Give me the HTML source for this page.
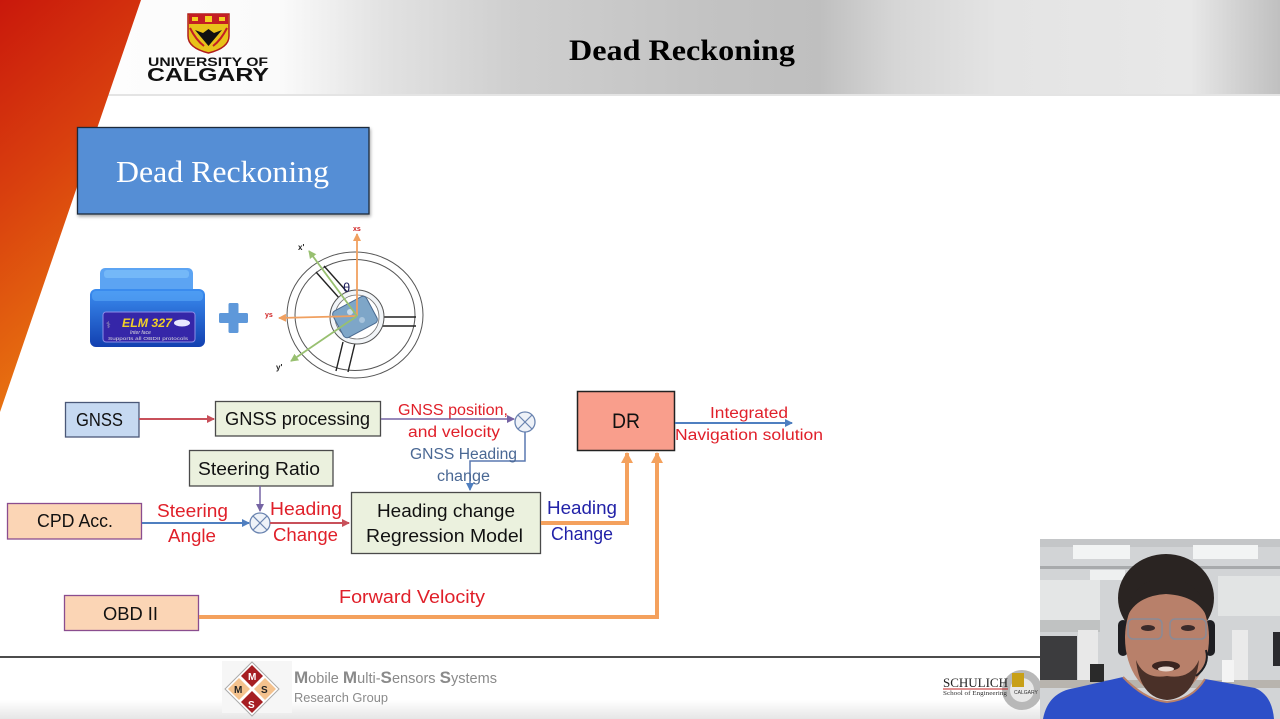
<!DOCTYPE html>
<html><head><meta charset="utf-8"><style>
html,body{margin:0;padding:0;background:#fff;}
svg{display:block;}
text{font-family:"Liberation Sans",sans-serif;}
</style></head><body>
<svg width="1280" height="719" viewBox="0 0 1280 719" xmlns="http://www.w3.org/2000/svg">
<defs>
<linearGradient id="hdr" x1="0" y1="0" x2="1" y2="0">
<stop offset="0" stop-color="#ffffff"/><stop offset="0.22" stop-color="#fafafa"/>
<stop offset="0.3" stop-color="#e2e2e2"/><stop offset="0.4" stop-color="#cfcfcf"/>
<stop offset="0.55" stop-color="#c3c3c3"/><stop offset="0.64" stop-color="#bfbfbf"/>
<stop offset="0.7" stop-color="#d6d6d6"/><stop offset="0.78" stop-color="#e4e4e4"/>
<stop offset="0.93" stop-color="#e8e8e8"/><stop offset="0.97" stop-color="#d0d0d0"/>
<stop offset="1" stop-color="#c0c0c0"/></linearGradient>
<linearGradient id="sw" x1="0" y1="0" x2="0.3" y2="1">
<stop offset="0" stop-color="#c9180c"/><stop offset="0.45" stop-color="#d9400e"/>
<stop offset="1" stop-color="#ea7a10"/></linearGradient>
<linearGradient id="obd" x1="0" y1="0" x2="0" y2="1">
<stop offset="0" stop-color="#3b8df0"/><stop offset="1" stop-color="#1240b0"/></linearGradient>
<linearGradient id="bot" x1="0" y1="0" x2="0" y2="1">
<stop offset="0" stop-color="#ffffff"/><stop offset="1" stop-color="#e6e6e6"/></linearGradient>
<marker id="aR" markerWidth="8" markerHeight="8" refX="7" refY="4" orient="auto" markerUnits="userSpaceOnUse"><path d="M0,0 L8,4 L0,8 z" fill="#c8505a"/></marker>
<marker id="aP" markerWidth="8" markerHeight="8" refX="7" refY="4" orient="auto" markerUnits="userSpaceOnUse"><path d="M0,0 L8,4 L0,8 z" fill="#7564a4"/></marker>
<marker id="aB" markerWidth="8" markerHeight="8" refX="7" refY="4" orient="auto" markerUnits="userSpaceOnUse"><path d="M0,0 L8,4 L0,8 z" fill="#4f7fc0"/></marker>
<marker id="aO" markerWidth="12" markerHeight="12" refX="10" refY="6" orient="auto" markerUnits="userSpaceOnUse"><path d="M0,0 L11,6 L0,12 z" fill="#f4a15d"/></marker>
<marker id="aOr" markerWidth="8" markerHeight="8" refX="7" refY="4" orient="auto" markerUnits="userSpaceOnUse"><path d="M0,0 L8,4 L0,8 z" fill="#f0a060"/></marker>
<marker id="aG" markerWidth="8" markerHeight="8" refX="7" refY="4" orient="auto" markerUnits="userSpaceOnUse"><path d="M0,0 L8,4 L0,8 z" fill="#98c070"/></marker>
<filter id="sh" x="-5%" y="-5%" width="112%" height="120%"><feDropShadow dx="1" dy="2" stdDeviation="1.5" flood-color="#000" flood-opacity="0.35"/></filter>
</defs>

<!-- header -->
<rect x="0" y="0" width="1280" height="95" fill="url(#hdr)"/>
<rect x="0" y="94" width="1280" height="2" fill="#e4e4e4"/>
<polygon points="0,0 141,0 0,412" fill="url(#sw)"/>
<text x="569" y="60" font-weight="bold" font-size="30" textLength="226" lengthAdjust="spacingAndGlyphs" style="font-family:'Liberation Serif',serif">Dead Reckoning</text>

<!-- UofC logo -->
<path d="M188,14 L229,14 L229,36 Q229,48 208.5,53 Q188,48 188,36 Z" fill="#e8c21a" stroke="#b01c1c" stroke-width="1.5"/>
<rect x="189" y="14" width="39" height="10" fill="#c41e24"/>
<rect x="192" y="17" width="6" height="4" fill="#f3d020"/><rect x="205" y="16" width="7" height="6" fill="#f3d020"/><rect x="219" y="17" width="6" height="4" fill="#f3d020"/>
<path d="M195,30 L208.5,46 L222,30 L214,33 L208.5,29 L203,33 Z" fill="#111"/>
<path d="M190,28 Q196,40 204,46" stroke="#c41e24" stroke-width="2" fill="none"/>
<path d="M227,28 Q221,40 213,46" stroke="#c41e24" stroke-width="2" fill="none"/>
<text x="148" y="66" font-weight="bold" font-size="12" textLength="120" lengthAdjust="spacingAndGlyphs" fill="#111">UNIVERSITY OF</text>
<text x="147" y="81" font-weight="bold" font-size="18" textLength="122" lengthAdjust="spacingAndGlyphs" fill="#111">CALGARY</text>

<!-- title box -->
<rect x="77.5" y="127.5" width="291.5" height="86.5" fill="#558ed5" stroke="#1e2a3a" stroke-width="1.3" filter="url(#sh)"/>
<text x="116" y="182" font-size="31" fill="#ffffff" textLength="213" lengthAdjust="spacingAndGlyphs" style="font-family:'Liberation Serif',serif">Dead Reckoning</text>

<!-- OBD device -->
<rect x="100" y="268" width="93" height="28" rx="5" fill="#4a9af2" opacity="0.9"/>
<rect x="104" y="270" width="85" height="8" rx="3" fill="#7fc0fa" opacity="0.7"/>
<rect x="90" y="289" width="115" height="58" rx="6" fill="url(#obd)"/>
<rect x="92" y="291" width="111" height="10" rx="4" fill="#5aa8f6" opacity="0.6"/>
<rect x="103" y="312" width="92" height="30" rx="3" fill="#3526a8" stroke="#8d8de8" stroke-width="1"/>
<text x="122" y="327" font-size="12" font-weight="bold" font-style="italic" fill="#f2d028" textLength="50" lengthAdjust="spacingAndGlyphs">ELM 327</text>
<ellipse cx="182" cy="323" rx="8" ry="3.5" fill="#e8e8ff"/>
<text x="130" y="334" font-size="5" font-style="italic" fill="#ddd">Inter face</text>
<text x="108" y="340" font-size="4.5" fill="#ddd" textLength="80" lengthAdjust="spacingAndGlyphs">Supports all OBDII protocols</text>
<text x="106" y="328" font-size="9" fill="#aab">⚕</text>
<!-- plus -->
<rect x="219" y="313" width="29" height="10" rx="1.5" fill="#5e98da"/>
<rect x="228.5" y="303" width="10" height="30" rx="1.5" fill="#5e98da"/>

<!-- steering wheel -->
<ellipse cx="355" cy="315" rx="68" ry="63" fill="#fff" stroke="#555" stroke-width="1"/>
<ellipse cx="355" cy="315" rx="60" ry="55.5" fill="#fff" stroke="#555" stroke-width="1"/>
<g stroke="#222" stroke-width="1.4">
<line x1="316" y1="272" x2="340" y2="299"/><line x1="324" y1="266" x2="348" y2="293"/>
<line x1="382" y1="317" x2="416" y2="317"/><line x1="382" y1="326" x2="416" y2="326"/>
<line x1="343" y1="342" x2="336" y2="371"/><line x1="355" y1="343" x2="348" y2="372"/>
</g>
<circle cx="357" cy="317" r="27" fill="#f2f5f8" stroke="#555" stroke-width="1"/>
<circle cx="357" cy="317" r="22" fill="#fff" stroke="#777" stroke-width="0.8"/>
<rect x="336" y="302" width="38" height="30" rx="4" transform="rotate(-28 355 317)" fill="#7ea6c8" stroke="#4a6a90" stroke-width="1"/>
<circle cx="350" cy="312" r="3" fill="#c8dceb"/><circle cx="362" cy="320" r="3" fill="#a8c4dc"/>
<line x1="357" y1="316" x2="357" y2="234" stroke="#f0a060" stroke-width="1.8" marker-end="url(#aOr)"/>
<line x1="357" y1="316" x2="279" y2="318" stroke="#f0a060" stroke-width="1.8" marker-end="url(#aOr)"/>
<line x1="357" y1="316" x2="309" y2="251" stroke="#98c070" stroke-width="1.8" marker-end="url(#aG)"/>
<line x1="357" y1="316" x2="291" y2="361" stroke="#98c070" stroke-width="1.8" marker-end="url(#aG)"/>
<text x="353" y="231" font-size="7" font-weight="bold" fill="#d02020">xs</text>
<text x="265" y="317" font-size="7" font-weight="bold" fill="#d02020">ys</text>
<text x="298" y="250" font-size="8" font-weight="bold" fill="#222">x'</text>
<text x="276" y="370" font-size="8" font-weight="bold" fill="#222">y'</text>
<text x="343" y="292" font-size="13" fill="#1a1a5a">θ</text>

<!-- diagram boxes -->
<rect x="65.5" y="402.5" width="73.5" height="34.5" fill="#c6d9f1" stroke="#4a5878" stroke-width="1.3"/>
<text x="76" y="426" font-size="18" fill="#111" textLength="47" lengthAdjust="spacingAndGlyphs">GNSS</text>

<rect x="215.5" y="401.5" width="165" height="34.5" fill="#ebf1de" stroke="#4a4a4a" stroke-width="1.3"/>
<text x="225" y="425" font-size="18" fill="#111" textLength="145" lengthAdjust="spacingAndGlyphs">GNSS processing</text>

<rect x="189.5" y="450.5" width="143.5" height="35.5" fill="#ebf1de" stroke="#4a4a4a" stroke-width="1.3"/>
<text x="198" y="475" font-size="18" fill="#111" textLength="122" lengthAdjust="spacingAndGlyphs">Steering Ratio</text>

<rect x="7.5" y="503.5" width="134" height="35.5" fill="#fbd5b5" stroke="#8a4d8f" stroke-width="1.3"/>
<text x="37" y="527" font-size="18" fill="#111" textLength="76" lengthAdjust="spacingAndGlyphs">CPD Acc.</text>

<rect x="351.5" y="492.5" width="189" height="61" fill="#ebf1de" stroke="#4a4a4a" stroke-width="1.3"/>
<text x="377" y="517" font-size="18" fill="#111" textLength="138" lengthAdjust="spacingAndGlyphs">Heading change</text>
<text x="366" y="542" font-size="18" fill="#111" textLength="157" lengthAdjust="spacingAndGlyphs">Regression Model</text>

<rect x="64.5" y="595.5" width="134" height="35" fill="#fbd5b5" stroke="#8a4d8f" stroke-width="1.3"/>
<text x="103" y="620" font-size="18" fill="#111" textLength="55" lengthAdjust="spacingAndGlyphs">OBD II</text>

<rect x="577.5" y="391.5" width="97" height="59" fill="#f99e8c" stroke="#222" stroke-width="1.5"/>
<text x="612" y="428" font-size="21" fill="#111" textLength="28" lengthAdjust="spacingAndGlyphs">DR</text>

<!-- connectors -->
<line x1="139" y1="419" x2="214" y2="419" stroke="#c8505a" stroke-width="2" marker-end="url(#aR)"/>
<line x1="381" y1="419" x2="514" y2="419" stroke="#7564a4" stroke-width="1.5" marker-end="url(#aP)"/>
<circle cx="525" cy="422" r="10" fill="#eef2f8" stroke="#6a84b0" stroke-width="1.3"/>
<line x1="518" y1="415" x2="532" y2="429" stroke="#6a84b0" stroke-width="1.2"/>
<line x1="532" y1="415" x2="518" y2="429" stroke="#6a84b0" stroke-width="1.2"/>
<polyline points="525,432 525,461 470,461 470,490" fill="none" stroke="#5a78b0" stroke-width="1.5" marker-end="url(#aB)"/>

<line x1="260" y1="486" x2="260" y2="511" stroke="#7564a4" stroke-width="1.5" marker-end="url(#aP)"/>
<line x1="142" y1="523" x2="249" y2="523" stroke="#4f7fc0" stroke-width="2" marker-end="url(#aB)"/>
<circle cx="260" cy="523" r="10" fill="#eef2f8" stroke="#6a84b0" stroke-width="1.3"/>
<line x1="253" y1="516" x2="267" y2="530" stroke="#6a84b0" stroke-width="1.2"/>
<line x1="267" y1="516" x2="253" y2="530" stroke="#6a84b0" stroke-width="1.2"/>
<line x1="270" y1="523" x2="349" y2="523" stroke="#c8505a" stroke-width="2" marker-end="url(#aR)"/>

<polyline points="541,523 627,523 627,453" fill="none" stroke="#f4a15d" stroke-width="4" marker-end="url(#aO)"/>
<polyline points="199,617 657,617 657,453" fill="none" stroke="#f4a15d" stroke-width="4" marker-end="url(#aO)"/>
<line x1="675" y1="423" x2="792" y2="423" stroke="#4f7fc0" stroke-width="2" marker-end="url(#aB)"/>

<!-- labels -->
<g fill="#e0202a" font-size="15.5">
<text x="398" y="415" textLength="110" lengthAdjust="spacingAndGlyphs">GNSS position,</text>
<text x="408" y="437" textLength="92" lengthAdjust="spacingAndGlyphs">and velocity</text>
<text x="710" y="418" textLength="78" lengthAdjust="spacingAndGlyphs">Integrated</text>
<text x="675" y="440" textLength="148" lengthAdjust="spacingAndGlyphs">Navigation solution</text>
</g>
<g fill="#4a6894" font-size="15.5">
<text x="410" y="459" textLength="107" lengthAdjust="spacingAndGlyphs">GNSS Heading</text>
<text x="437" y="481" textLength="53" lengthAdjust="spacingAndGlyphs">change</text>
</g>
<g fill="#e0202a" font-size="18">
<text x="157" y="517" textLength="71" lengthAdjust="spacingAndGlyphs">Steering</text>
<text x="168" y="542" textLength="48" lengthAdjust="spacingAndGlyphs">Angle</text>
<text x="270" y="515" textLength="72" lengthAdjust="spacingAndGlyphs">Heading</text>
<text x="273" y="541" textLength="65" lengthAdjust="spacingAndGlyphs">Change</text>
<text x="339" y="603" textLength="146" lengthAdjust="spacingAndGlyphs">Forward Velocity</text>
</g>
<g fill="#2222a8" font-size="18">
<text x="547" y="514" textLength="70" lengthAdjust="spacingAndGlyphs">Heading</text>
<text x="551" y="540" textLength="62" lengthAdjust="spacingAndGlyphs">Change</text>
</g>

<!-- footer -->
<rect x="0" y="700" width="1280" height="19" fill="url(#bot)"/>
<line x1="0" y1="657" x2="1040" y2="657" stroke="#111" stroke-width="1.6"/>
<rect x="222" y="661" width="70" height="52" fill="#f6f6f6"/>
<g transform="translate(252,689)">
<polygon points="0,-27 27,0 0,27 -27,0" fill="#fff" stroke="#aaa" stroke-width="1"/>
<polygon points="0,-24 11,-13 0,-2 -11,-13" fill="#a61e22"/>
<polygon points="0,24 11,13 0,2 -11,13" fill="#a61e22"/>
<polygon points="-24,0 -13,-11 -2,0 -13,11" fill="#f4c28e"/>
<polygon points="24,0 13,-11 2,0 13,11" fill="#f4c28e"/>
<text x="-4" y="-9" font-size="10" font-weight="bold" fill="#fff">M</text>
<text x="-4" y="19" font-size="10" font-weight="bold" fill="#fff">S</text>
<text x="-18" y="4" font-size="10" font-weight="bold" fill="#222">M</text>
<text x="9" y="4" font-size="10" font-weight="bold" fill="#222">S</text>
</g>
<text x="294" y="683" font-size="14.5" fill="#8a8a8a" textLength="203" lengthAdjust="spacingAndGlyphs"><tspan font-size="17" font-weight="bold">M</tspan>obile <tspan font-size="17" font-weight="bold">M</tspan>ulti-<tspan font-size="17" font-weight="bold">S</tspan>ensors <tspan font-size="17" font-weight="bold">S</tspan>ystems</text>
<text x="294" y="702" font-size="13" fill="#8a8a8a" textLength="94" lengthAdjust="spacingAndGlyphs">Research Group</text>

<!-- Schulich -->
<circle cx="1022" cy="690" r="20" fill="#b8b8b8"/>
<circle cx="1022" cy="690" r="12" fill="#e8e8e8"/>
<rect x="1012" y="673" width="12" height="14" fill="#c8a018"/>
<text x="943" y="687" font-size="13" fill="#222" textLength="65" lengthAdjust="spacingAndGlyphs" style="font-family:'Liberation Serif',serif">SCHULICH</text>
<line x1="943" y1="689" x2="1008" y2="689" stroke="#c02020" stroke-width="1"/>
<text x="943" y="695" font-size="6" fill="#333" textLength="64" lengthAdjust="spacingAndGlyphs" style="font-family:'Liberation Serif',serif">School of Engineering</text>
<text x="1014" y="694" font-size="5" fill="#333">CALGARY</text>

<!-- webcam -->
<g>
<rect x="1040" y="539" width="240" height="180" fill="#d2d4d6"/>
<rect x="1040" y="539" width="240" height="8" fill="#c4c6c8"/>
<rect x="1073" y="545" width="57" height="14" fill="#f2f4f4"/>
<rect x="1193" y="545" width="65" height="14" fill="#f2f4f4"/>
<rect x="1090" y="570" width="35" height="10" fill="#eef0f0"/>
<rect x="1040" y="566" width="240" height="3" fill="#a8aaac"/>
<rect x="1040" y="580" width="60" height="40" fill="#e4e6e6"/>
<rect x="1218" y="576" width="62" height="40" fill="#e2e4e4"/>
<rect x="1040" y="620" width="60" height="12" fill="#c0c2c2"/>
<rect x="1040" y="636" width="37" height="44" fill="#3c3c3e"/>
<rect x="1078" y="630" width="20" height="55" fill="#e8e8e8"/>
<rect x="1232" y="630" width="16" height="55" fill="#eaeaea"/>
<rect x="1273" y="632" width="7" height="34" fill="#2a2a2e"/>
<rect x="1040" y="680" width="240" height="8" fill="#b8b4ae"/>
<rect x="1090" y="664" width="14" height="18" fill="#2a2a2a"/>
<rect x="1222" y="660" width="12" height="22" fill="#f4f4f4"/>
<!-- head -->
<ellipse cx="1166" cy="598" rx="48" ry="44" fill="#2a2422"/>
<rect x="1118" y="620" width="10" height="36" rx="5" fill="#1e1e22"/>
<rect x="1205" y="620" width="10" height="36" rx="5" fill="#1e1e22"/>
<ellipse cx="1167" cy="638" rx="42" ry="58" fill="#b8806a"/>
<path d="M1126,620 Q1128,580 1166,578 Q1205,580 1208,620 Q1200,596 1166,594 Q1134,596 1126,620 Z" fill="#2a2422"/>
<path d="M1136,660 Q1140,698 1167,700 Q1195,698 1199,660 Q1190,680 1167,676 Q1144,680 1136,660 Z" fill="#4a3028"/>
<ellipse cx="1166" cy="666" rx="14" ry="5" fill="#3a2420"/>
<ellipse cx="1166" cy="669" rx="8" ry="2.5" fill="#e8d8d0"/>
<rect x="1128" y="619" width="34" height="20" rx="5" fill="none" stroke="#8a8a96" stroke-width="1.5"/>
<rect x="1170" y="619" width="36" height="20" rx="5" fill="none" stroke="#8a8a96" stroke-width="1.5"/>
<ellipse cx="1148" cy="628" rx="7" ry="3" fill="#3a2a2a"/>
<ellipse cx="1188" cy="628" rx="7" ry="3" fill="#3a2a2a"/>
<path d="M1206,650 Q1210,665 1196,676" stroke="#1e1e22" stroke-width="2" fill="none"/>
<!-- shirt -->
<path d="M1043,719 Q1048,692 1075,688 L1123,677 Q1145,700 1167,702 Q1192,700 1205,679 L1255,688 Q1272,695 1274,719 Z" fill="#2d4fc8"/>
<path d="M1123,677 Q1145,700 1167,702 Q1192,700 1205,679" stroke="#b8806a" stroke-width="2" fill="none"/>
</g>
</svg>
</body></html>
